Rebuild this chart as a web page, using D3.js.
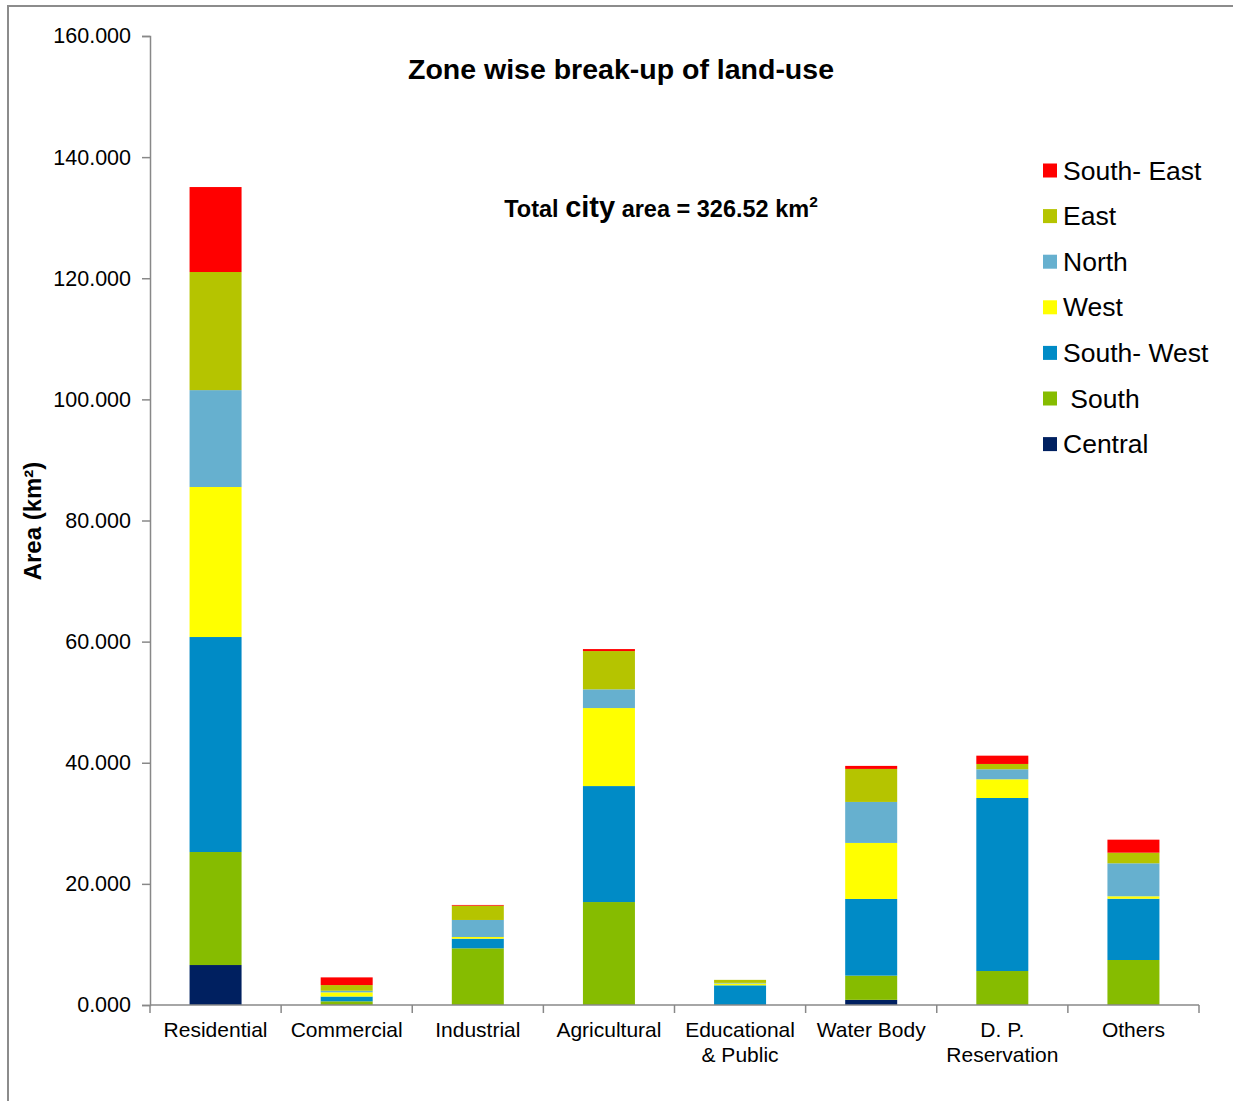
<!DOCTYPE html>
<html><head><meta charset="utf-8">
<script src="https://cdn.jsdelivr.net/npm/d3@7"></script>
<style>body{margin:0;background:#fff}svg{display:block;font-family:"Liberation Sans",Arial,sans-serif}</style>
</head><body><svg id="c" width="1233" height="1101"></svg>
<script>
const categories = ["Residential","Commercial","Industrial","Agricultural","Educational\n& Public","Water Body","D. P.\nReservation","Others"];
const zones = ["Central","South","South- West","West","North","East","South- East"];
const central   = [6.6, 0, 0, 0, 0, 0.85, 0, 0];
const south     = [18.66, 0.61, 9.36, 17.0, 0, 4.0, 5.61, 7.43];
const southWest = [35.5, 0.79, 1.59, 19.15, 3.25, 12.66, 28.57, 10.12];
const west      = [24.77, 0.69, 0.28, 12.88, 0.3, 9.25, 3.09, 0.4];
const north     = [16.0, 0.26, 2.81, 3.09, 0.1, 6.77, 1.65, 5.45];
const east      = [19.5, 0.94, 2.36, 6.32, 0.5, 5.45, 0.88, 1.75];
const southEast = [14.03, 1.27, 0.12, 0.33, 0, 0.5, 1.37, 2.15];
const yTicks = [0,20,40,60,80,100,120,140,160];
const colors = ["#002060","#86BC00","#008BC6","#FFFF00","#66B0CF","#B5C400","#FF0000"];
const legendOrder = ["South- East","East","North","West","South- West"," South","Central"];
const legendColors = ["#FF0000","#B5C400","#66B0CF","#FFFF00","#008BC6","#86BC00","#002060"];

const series = [central, south, southWest, west, north, east, southEast];
const rows = categories.map((c,i)=>{const o={cat:c}; zones.forEach((z,j)=>o[z]=series[j][i]); return o;});
const stacked = d3.stack().keys(zones)(rows);

const svg = d3.select("#c");
// frame
svg.append("rect").attr("x",8).attr("y",6).attr("width",1240).attr("height",1110)
  .attr("fill","none").attr("stroke","#8c8c8c").attr("stroke-width",2);

const xOuter = d3.scaleBand().domain(categories).range([150,1199]);
const y = d3.scaleLinear().domain([0,160]).range([1005,36]);

const g = svg.append("g");
stacked.forEach((s,j)=>{
  g.selectAll(null).data(s).enter().append("rect")
    .attr("x",(d,i)=>xOuter(categories[i]) + xOuter.bandwidth()/2 - 26)
    .attr("width",52)
    .attr("y",d=>y(d[1]))
    .attr("height",d=>Math.max(0,y(d[0])-y(d[1])))
    .attr("fill",colors[j]);
});

// y axis
const yAxis = d3.axisLeft(y).tickValues(yTicks).tickFormat(d3.format(".3f")).tickSizeOuter(0).tickSize(8).tickPadding(11);
const ya = svg.append("g").attr("transform","translate(150,0)").call(yAxis);
ya.select(".domain").attr("stroke","#888").attr("stroke-width",1.5);
ya.selectAll(".tick line").attr("stroke","#888").attr("stroke-width",1.5);
ya.selectAll(".tick text").attr("font-size",21.5).attr("fill","#000").attr("font-family","Liberation Sans, Arial, sans-serif");

// x axis
const xa = svg.append("g").attr("transform","translate(0,1005)");
xa.append("line").attr("x1",150).attr("x2",1199).attr("y1",0).attr("y2",0).attr("stroke","#888").attr("stroke-width",1.5);
const bounds = categories.map(c=>xOuter(c)).concat([1199]);
xa.selectAll(null).data(bounds).enter().append("line")
  .attr("x1",d=>d).attr("x2",d=>d).attr("y1",0).attr("y2",8).attr("stroke","#888").attr("stroke-width",1.5);
categories.forEach(c=>{
  const lines = c.split("\n");
  const t = xa.append("text").attr("text-anchor","middle").attr("font-size",21).attr("fill","#000")
    .attr("x",xOuter(c)+xOuter.bandwidth()/2).attr("y",32);
  lines.forEach((l,k)=>t.append("tspan").attr("x",xOuter(c)+xOuter.bandwidth()/2).attr("dy",k===0?0:25).text(l));
});

// title
svg.append("text").attr("x",621).attr("y",79).attr("text-anchor","middle").attr("font-size",28.5).attr("font-weight","bold").text("Zone wise break-up of land-use");
const sub = svg.append("text").attr("x",661).attr("y",217).attr("text-anchor","middle").attr("font-size",23.5).attr("font-weight","bold");
sub.append("tspan").text("Total ");
sub.append("tspan").attr("font-size",29).text("city");
sub.append("tspan").text(" area = 326.52 km");
sub.append("tspan").attr("font-size",15.5).attr("dy",-10).text("2");

// y label
svg.append("text").attr("transform","translate(41,521) rotate(-90)").attr("text-anchor","middle").attr("font-size",24).attr("font-weight","bold")
  .text("Area (km²)");

// legend
const lg = svg.append("g");
legendOrder.forEach((n,i)=>{
  const yy = 170.5 + i*45.6;
  lg.append("rect").attr("x",1043).attr("y",yy-7).attr("width",14).attr("height",14).attr("fill",legendColors[i]);
  lg.append("text").attr("x",1063).attr("y",yy+9).attr("font-size",26.5).attr("fill","#000").attr("xml:space","preserve").style("white-space","pre").text(n);
});
</script></body></html>
